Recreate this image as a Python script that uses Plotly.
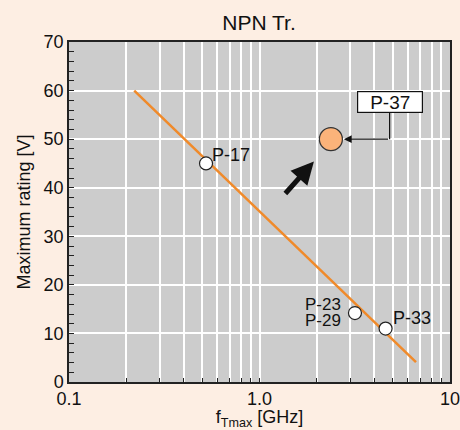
import numpy as np
import plotly.graph_objects as go

# Data
line_x = [0.22, 6.63]
line_y = [60, 4.1]
pt_names = ["P-17", "P-23/P-29", "P-33"]
pt_x = [0.524, 3.17, 4.59]
pt_y = [45, 14.2, 11.0]
new_name = "P-37"
new_x = [2.37]
new_y = [50]
x_tickvals = [0.1, 1, 10]
x_ticktext = ["0.1", "1.0", "10"]
y_tickvals = [0, 10, 20, 30, 40, 50, 60, 70]

FONT = "Liberation Sans, Arial, sans-serif"
minor_x = [m * 10.0 ** d for d in (-1, 0) for m in range(2, 10)]

fig = go.Figure()
fig.add_trace(go.Scatter(x=line_x, y=line_y, mode="lines",
                         line=dict(color="#f08a2a", width=2.5), hoverinfo="skip"))
fig.add_trace(go.Scatter(x=pt_x, y=pt_y, mode="markers",
                         marker=dict(size=13, color="white", line=dict(color="#222", width=1.2))))
fig.add_trace(go.Scatter(x=new_x, y=new_y, mode="markers",
                         marker=dict(size=23, color="#fbb37a", line=dict(color="#333", width=1.2))))

lx = np.log10
TF = dict(size=18, color="#111", family=FONT)
TF2 = dict(size=17, color="#111", family=FONT)
ann = []
ann.append(dict(x=lx(pt_x[0]), y=pt_y[0], text="P-17", showarrow=False, xanchor="left",
                xshift=4, yshift=8, font=TF))
ann.append(dict(x=lx(pt_x[1]), y=pt_y[1], text="P-23", showarrow=False, xanchor="right",
                xshift=-12, yshift=9, font=TF2))
ann.append(dict(x=lx(pt_x[1]), y=pt_y[1], text="P-29", showarrow=False, xanchor="right",
                xshift=-12, yshift=-7, font=TF2))
ann.append(dict(x=lx(pt_x[2]), y=pt_y[2], text="P-33", showarrow=False, xanchor="left",
                xshift=5, yshift=11, font=TF))
# P-37 label box
box_x, box_y = 4.82, 57.7
ann.append(dict(x=lx(box_x), y=box_y, text=new_name, showarrow=False,
                bgcolor="white", bordercolor="#111", borderwidth=1.2, borderpad=0,
                width=64, height=20, font=dict(size=19, color="#111", family=FONT)))
# big black arrow
ann.append(dict(x=lx(1.93), y=45.4, ax=lx(1.345), ay=38.5, axref="x", ayref="y",
                xref="x", yref="y", text="", showarrow=True, arrowhead=2, arrowsize=0.9,
                arrowwidth=5, arrowcolor="#111"))
# connector from box to P-37
ann.append(dict(x=lx(new_x[0]), y=new_y[0], ax=lx(box_x), ay=new_y[0], axref="x", ayref="y",
                text="", showarrow=True, arrowhead=2, arrowsize=1.3, arrowwidth=1.2,
                arrowcolor="#111", standoff=13))
fig.add_shape(type="line", x0=box_x, x1=box_x, y0=new_y[0], y1=55.5,
              xref="x", yref="y", line=dict(color="#111", width=1.2))

fig.update_layout(
    width=460, height=430, margin=dict(l=69, r=10, t=42, b=48),
    paper_bgcolor="#fdeee3", plot_bgcolor="#cccccc", showlegend=False,
    font=dict(family=FONT, size=18, color="#111"),
    title=dict(text="NPN Tr.", x=0.563, xanchor="center", y=0.948, yanchor="middle",
               font=dict(size=21, family=FONT, color="#111")),
    annotations=ann,
)
fig.update_xaxes(type="log", range=[-1, 1], tickvals=x_tickvals, ticktext=x_ticktext,
                 showgrid=True, gridcolor="white", gridwidth=1.5, automargin=False,
                 ticklabeloverflow="allow",
                 ticks="inside", ticklen=4, tickcolor="#222",
                 minor=dict(tickvals=minor_x, showgrid=True, gridcolor="white", gridwidth=1.5,
                            ticks="inside", ticklen=4, tickcolor="#222"),
                 showline=True, linecolor="#222", linewidth=1.5, mirror=True,
                 title=dict(text="f<sub>Tmax</sub> [GHz]", standoff=3,
                            font=dict(size=18, family=FONT)),
                 zeroline=False, tickfont=dict(size=18))
fig.update_yaxes(range=[0, 70], tickvals=y_tickvals, showgrid=True, gridcolor="white", gridwidth=1.5,
                 ticks="inside", ticklen=5, tickcolor="#222", automargin=False,
                 ticklabeloverflow="allow",
                 minor=dict(dtick=2, ticks="inside", ticklen=5, tickcolor="#222", showgrid=False),
                 showline=True, linecolor="#222", linewidth=1.5, mirror=True,
                 title=dict(text="Maximum rating [V]", standoff=8, font=dict(size=18, family=FONT)),
                 zeroline=False, tickfont=dict(size=18))

fig.write_html("out.html")
